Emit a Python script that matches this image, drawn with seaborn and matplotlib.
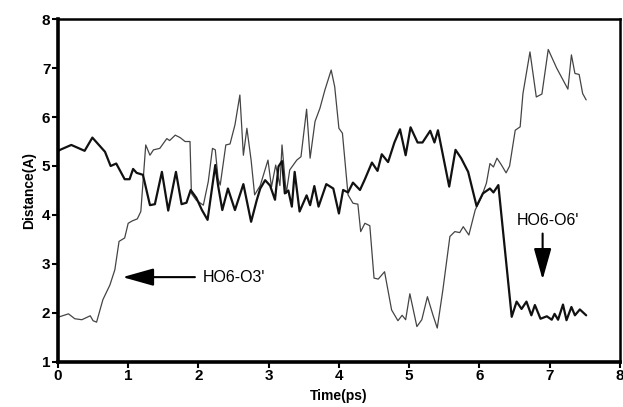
import matplotlib
matplotlib.use("Agg")
import matplotlib.pyplot as plt
import seaborn as sns
import pandas as pd

# HO6-O3' (thin line)
t_o3 = [0.0, 0.15, 0.24, 0.34, 0.46, 0.50, 0.55, 0.64, 0.74, 0.81, 0.87, 0.95, 1.00, 1.06, 1.13, 1.18,
        1.25, 1.31, 1.36, 1.45, 1.55, 1.59, 1.67, 1.74, 1.81, 1.88, 1.90, 1.97, 2.07, 2.14, 2.20, 2.24,
        2.28, 2.31, 2.39, 2.45, 2.52, 2.59, 2.64, 2.69, 2.75, 2.80, 2.88, 2.99, 3.04, 3.10, 3.16, 3.19,
        3.25, 3.30, 3.40, 3.46, 3.54, 3.59, 3.66, 3.73, 3.80, 3.89, 3.94, 4.00, 4.05, 4.13, 4.20, 4.27,
        4.31, 4.37, 4.44, 4.50, 4.56, 4.65, 4.75, 4.84, 4.90, 4.95, 5.01, 5.11, 5.18, 5.26, 5.34, 5.40,
        5.48, 5.58, 5.65, 5.72, 5.77, 5.85, 5.94, 6.03, 6.10, 6.15, 6.20, 6.25, 6.31, 6.38, 6.43, 6.51,
        6.58, 6.62, 6.72, 6.81, 6.89, 6.98, 7.10, 7.26, 7.31, 7.36, 7.42, 7.47, 7.52]
d_o3 = [1.91, 1.98, 1.88, 1.86, 1.94, 1.84, 1.81, 2.27, 2.57, 2.88, 3.46, 3.53, 3.83, 3.88, 3.92, 4.07,
        5.43, 5.22, 5.33, 5.36, 5.56, 5.52, 5.63, 5.58, 5.50, 5.50, 4.44, 4.30, 4.20, 4.68, 5.36, 5.33,
        4.74, 4.61, 5.43, 5.45, 5.84, 6.45, 5.22, 5.77, 5.12, 4.41, 4.60, 5.12, 4.57, 5.02, 4.60, 5.43,
        4.44, 4.92, 5.12, 5.19, 6.16, 5.16, 5.91, 6.18, 6.55, 6.96, 6.62, 5.77, 5.67, 4.41, 4.24, 4.22,
        3.66, 3.83, 3.78, 2.71, 2.69, 2.84, 2.06, 1.84, 1.95, 1.86, 2.39, 1.72, 1.86, 2.33, 1.95, 1.69,
        2.47, 3.56, 3.66, 3.64, 3.76, 3.59, 4.10, 4.37, 4.65, 5.05, 4.98, 5.16, 5.03, 4.86, 5.00, 5.73,
        5.80, 6.48, 7.33, 6.41, 6.47, 7.38, 7.00, 6.57, 7.27, 6.89, 6.87, 6.48, 6.35]

# HO6-O6' (thick line)
t_o6 = [0.0, 0.03, 0.19, 0.38, 0.49, 0.67, 0.75, 0.83, 0.95, 1.02, 1.07, 1.12, 1.21, 1.31, 1.38, 1.48,
        1.57, 1.68, 1.76, 1.83, 1.89, 1.97, 2.05, 2.13, 2.19, 2.24, 2.28, 2.34, 2.42, 2.52, 2.64, 2.75,
        2.83, 2.88, 2.95, 3.02, 3.09, 3.14, 3.19, 3.23, 3.28, 3.33, 3.37, 3.44, 3.54, 3.59, 3.65, 3.71,
        3.82, 3.92, 4.00, 4.06, 4.13, 4.20, 4.30, 4.37, 4.47, 4.55, 4.61, 4.70, 4.79, 4.87, 4.95, 5.02,
        5.12, 5.19, 5.30, 5.36, 5.41, 5.57, 5.66, 5.74, 5.84, 5.96, 6.05, 6.15, 6.20, 6.27, 6.46, 6.53,
        6.60, 6.67, 6.74, 6.79, 6.87, 6.96, 7.03, 7.07, 7.12, 7.19, 7.24, 7.31, 7.36, 7.43, 7.52]
d_o6 = [5.30, 5.33, 5.43, 5.31, 5.58, 5.29, 5.00, 5.05, 4.73, 4.73, 4.94, 4.86, 4.82, 4.20, 4.22, 4.88,
        4.09, 4.88, 4.22, 4.25, 4.51, 4.35, 4.10, 3.90, 4.51, 5.02, 4.60, 4.10, 4.54, 4.10, 4.63, 3.86,
        4.30, 4.54, 4.71, 4.60, 4.31, 4.99, 5.10, 4.44, 4.50, 4.17, 4.88, 4.07, 4.40, 4.20, 4.59, 4.17,
        4.63, 4.54, 4.03, 4.51, 4.46, 4.66, 4.51, 4.73, 5.07, 4.90, 5.24, 5.08, 5.48, 5.75, 5.22, 5.79,
        5.48, 5.48, 5.72, 5.48, 5.73, 4.58, 5.33, 5.16, 4.88, 4.18, 4.44, 4.54, 4.46, 4.61, 1.92, 2.23,
        2.08, 2.23, 1.95, 2.16, 1.88, 1.93, 1.86, 1.98, 1.86, 2.17, 1.85, 2.12, 1.95, 2.07, 1.95]

x_ticks = [0, 1, 2, 3, 4, 5, 6, 7, 8]
y_ticks = [1, 2, 3, 4, 5, 6, 7, 8]

sns.set_theme(style="ticks")
plt.rcParams['font.family'] = ['Liberation Sans', 'DejaVu Sans']

fig, ax = plt.subplots(figsize=(6.23, 4.07), dpi=100)
fig.subplots_adjust(left=0.093, right=0.995, top=0.953, bottom=0.111)

df3 = pd.DataFrame({"t": t_o3, "d": d_o3})
df6 = pd.DataFrame({"t": t_o6, "d": d_o6})
sns.lineplot(data=df3, x="t", y="d", ax=ax, color="#444444", lw=0.9, estimator=None, sort=False)
sns.lineplot(data=df6, x="t", y="d", ax=ax, color="#111111", lw=1.6, estimator=None, sort=False)

ax.set_xlim(0, 8)
ax.set_ylim(1, 8)
ax.set_xticks(x_ticks)
ax.set_yticks(y_ticks)
ax.set_xticklabels([str(v) for v in x_ticks], fontsize=11, fontweight='bold')
ax.set_yticklabels([str(v) for v in y_ticks], fontsize=11, fontweight='bold')
ax.tick_params(axis='both', direction='out', length=4, width=1.5, color='black', pad=1.5, labelcolor='black')
ax.set_xlabel("Time(ps)", fontsize=10, fontweight='bold', labelpad=4, color='black')
ax.set_ylabel("Distance(A)", fontsize=10, fontweight='bold', labelpad=4, color='black')

for side in ['left', 'bottom']:
    ax.spines[side].set_linewidth(2.6)
    ax.spines[side].set_color('black')
for side in ['top', 'right']:
    ax.spines[side].set_visible(True)
    ax.spines[side].set_linewidth(1.8)
    ax.spines[side].set_color('black')

ax.annotate("", xy=(0.92, 2.73), xytext=(1.95, 2.73),
            arrowprops=dict(arrowstyle="-|>,head_length=1.6,head_width=0.45", color='black', lw=1.5,
                            shrinkA=0, shrinkB=0))
ax.text(2.06, 2.73, "HO6-O3'", fontsize=11.5, va='center', ha='left', color='black')
ax.annotate("", xy=(6.90, 2.68), xytext=(6.90, 3.62),
            arrowprops=dict(arrowstyle="-|>,head_length=1.6,head_width=0.45", color='black', lw=1.5,
                            shrinkA=0, shrinkB=0))
ax.text(6.97, 3.88, "HO6-O6'", fontsize=11.5, va='center', ha='center', color='black')

fig.savefig("out.png", dpi=100)
